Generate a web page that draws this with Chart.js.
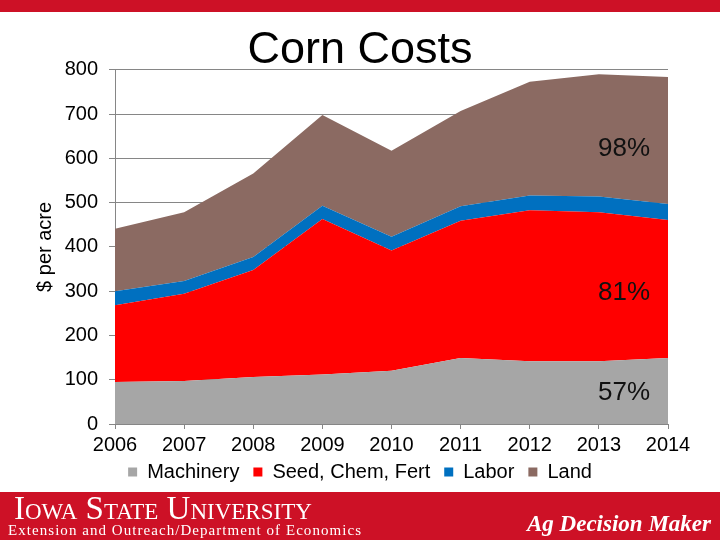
<!DOCTYPE html>
<html>
<head>
<meta charset="utf-8">
<script src="https://cdn.jsdelivr.net/npm/chart.js@4.4.1/dist/chart.umd.min.js"></script>
<style>
  html, body { margin: 0; padding: 0; background: #fff; }
  #wrap { position: relative; width: 720px; height: 540px; overflow: hidden; font-family: "Liberation Sans", Arial, sans-serif; }
  #c { position: absolute; left: 0; top: 0; }
  #topbar { position: absolute; left: 0; top: 0; width: 720px; height: 12px; background: #CD1126; }
  #footer { position: absolute; left: 0; top: 492px; width: 720px; height: 48px; background: #CD1126; color: #fff; }
  #isu { position: absolute; left: 14px; top: -2px; font-family: "Liberation Serif", serif; font-size: 33px; font-variant: small-caps; letter-spacing: 0px; white-space: nowrap; line-height: 36px; }
  #ext { position: absolute; left: 8px; top: 30px; font-family: "Liberation Serif", serif; font-size: 15px; letter-spacing: 1.05px; white-space: nowrap; line-height: 16px; }
  #adm { position: absolute; left: 527px; top: 19px; font-family: "Liberation Serif", serif; font-size: 23px; font-style: italic; font-weight: bold; white-space: nowrap; line-height: 26px; }
</style>
</head>
<body>
<div id="wrap">
  <canvas id="c" width="720" height="540"></canvas>
  <div id="topbar"></div>
  <div id="footer">
    <div id="isu">Iowa State University</div>
    <div id="ext">Extension and Outreach/Department of Economics</div>
    <div id="adm">Ag Decision Maker</div>
  </div>
</div>
<script>
// ---- data ----
const years = ['2006','2007','2008','2009','2010','2011','2012','2013','2014'];
const machinery = [95, 97, 106, 112, 120, 149, 142, 142, 149];
const seedChemFert = [173, 197, 242, 351, 272, 310, 341, 336, 312];
const labor = [32, 29, 29, 30, 31, 33, 33, 36, 36];
const land = [141, 155, 189, 205, 194, 215, 257, 276, 287];
const seriesNames = ['Machinery', 'Seed, Chem, Fert', 'Labor', 'Land'];
const yTicks = [0, 100, 200, 300, 400, 500, 600, 700, 800];
const pctLabels = ['98%', '81%', '57%'];
const pctValues = [622, 297, 70];
const pctIndex = 7.74;

const colors = ['#A6A6A6', '#FF0000', '#0070C0', '#8B6A62'];
const seriesData = [machinery, seedChemFert, labor, land];

const pctPlugin = {
  id: 'pctLabels',
  afterDatasetsDraw(chart) {
    const ctx = chart.ctx;
    const xs = chart.scales.x, ys = chart.scales.y;
    ctx.save();
    ctx.font = '26px "Liberation Sans", Arial, sans-serif';
    ctx.fillStyle = '#111';
    ctx.textAlign = 'right';
    ctx.textBaseline = 'middle';
    pctLabels.forEach((t, i) => {
      ctx.fillText(t, xs.getPixelForValue(pctIndex), ys.getPixelForValue(pctValues[i]));
    });
    ctx.restore();
  }
};

// nudge the legend a little closer to the axis labels
const legendNudge = {
  id: 'legendNudge',
  afterLayout(chart) {
    if (chart.legend) { chart.legend.top -= 6; chart.legend.bottom -= 6; }
  }
};

const font = { family: '"Liberation Sans", Arial, sans-serif', size: 20 };

new Chart(document.getElementById('c'), {
  type: 'line',
  data: {
    labels: years,
    datasets: seriesData.map((d, i) => ({
      label: seriesNames[i],
      data: d,
      backgroundColor: colors[i],
      borderColor: colors[i],
      borderWidth: 0,
      pointRadius: 0,
      fill: i === 0 ? 'origin' : '-1',
      tension: 0
    }))
  },
  options: {
    responsive: false,
    animation: false,
    layout: { padding: { left: 0, right: 0, top: 0, bottom: 42 } },
    plugins: {
      tooltip: { enabled: false },
      title: {
        display: true,
        text: 'Corn Costs',
        color: '#000',
        font: { family: '"Liberation Sans", Arial, sans-serif', size: 45, weight: 'normal', lineHeight: 0.84 },
        padding: { top: 32, bottom: 0 }
      },
      legend: {
        position: 'bottom',
        labels: {
          color: '#000',
          font: font,
          boxWidth: 9,
          boxHeight: 9,
          padding: 14,
          generateLabels(chart) {
            return chart.data.datasets.map((ds, i) => ({
              text: ds.label, fillStyle: colors[i], strokeStyle: colors[i], lineWidth: 0, datasetIndex: i, hidden: false
            }));
          }
        }
      }
    },
    scales: {
      x: {
        offset: false,
        grid: { display: true, drawOnChartArea: false, drawTicks: true, tickLength: 5, color: '#868686' },
        border: { color: '#868686' },
        ticks: { color: '#000', font: font, padding: 4, maxRotation: 0 },
        afterFit(s) { s.height = 30; }
      },
      y: {
        stacked: true,
        min: 0, max: 800,
        afterBuildTicks(s) { s.ticks = yTicks.map(v => ({ value: v })); },
        grid: { color: '#868686', tickLength: 6 },
        border: { color: '#868686' },
        ticks: { color: '#000', font: font, padding: 11 },
        title: { display: true, text: '$ per acre', color: '#000', font: font, padding: { top: 33, bottom: 0 } },
        afterFit(s) { s.width = 115; }
      },
      y2: {
        position: 'right',
        display: true,
        grid: { display: false },
        border: { display: false },
        ticks: { display: false },
        afterFit(s) { s.width = 52; }
      }
    }
  },
  plugins: [pctPlugin, legendNudge]
});
</script>
</body>
</html>
